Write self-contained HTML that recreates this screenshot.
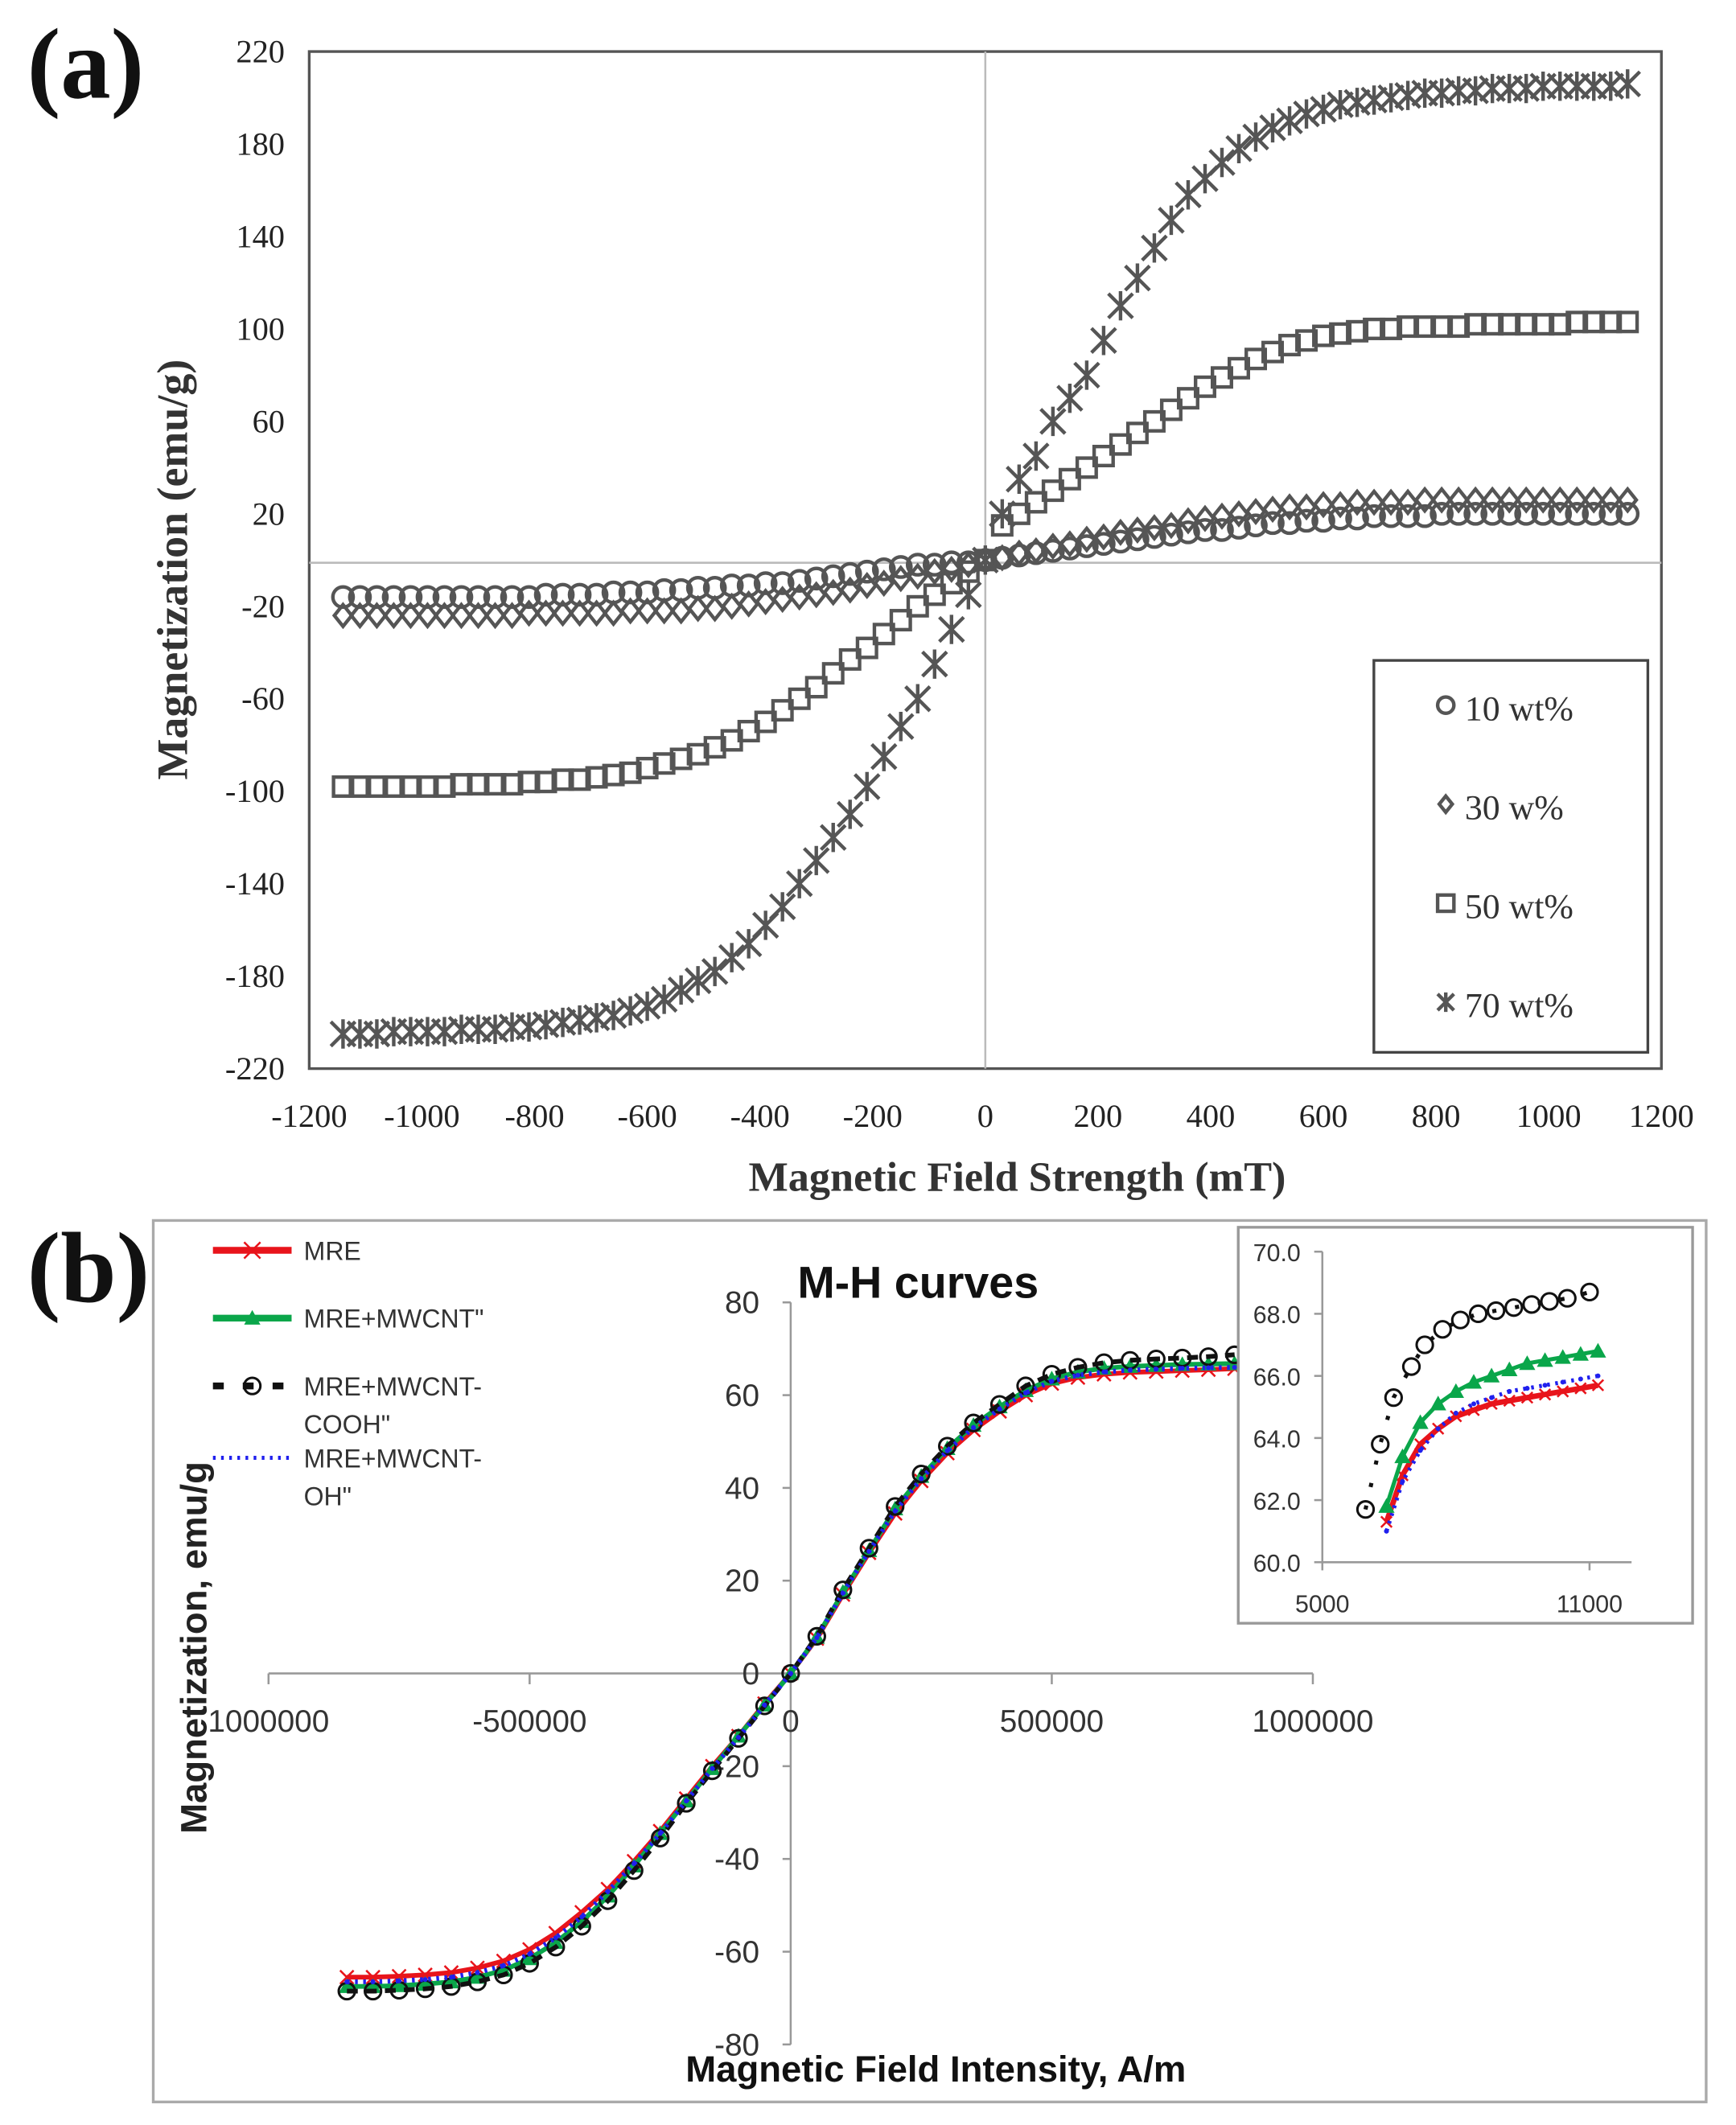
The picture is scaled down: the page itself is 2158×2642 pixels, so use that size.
<!DOCTYPE html>
<html><head><meta charset="utf-8">
<style>
html,body{margin:0;padding:0;background:#fff;}
svg{display:block;}
</style></head>
<body>
<svg id="fig" width="2158" height="2642" viewBox="0 0 1280 1567" preserveAspectRatio="none" xmlns="http://www.w3.org/2000/svg">
<rect width="1280" height="1567" fill="#fff"/>
<g id="pa"></g>
<g id="pb"></g>
</svg>
<script>
// ---------- Panel (a) data ----------
const aField = [-1140,-1110,-1080,-1050,-1020,-990,-960,-930,-900,-870,-840,-810,-780,-750,-720,-690,-660,-630,-600,-570,-540,-510,-480,-450,-420,-390,-360,-330,-300,-270,-240,-210,-180,-150,-120,-90,-60,-30,0,30,60,90,120,150,180,210,240,270,300,330,360,390,420,450,480,510,540,570,600,630,660,690,720,750,780,810,840,870,900,930,960,990,1020,1050,1080,1110,1140];
const a10 = [-16,-16,-16,-16,-16,-16,-16,-16,-16,-16,-16,-16,-15,-15,-15,-15,-14,-14,-14,-13,-13,-12,-12,-11,-11,-10,-10,-9,-8,-7,-6,-5,-4,-3,-2,-2,-1,-1,0,1,2,3,4,5,6,7,8,9,10,11,12,13,13,14,15,16,16,17,17,18,18,19,19,19,19,20,20,20,20,20,20,20,20,20,20,20,20];
const a30 = [-24,-24,-24,-24,-24,-24,-24,-24,-24,-24,-24,-23,-23,-23,-23,-23,-23,-22,-22,-22,-22,-21,-21,-20,-19,-18,-17,-16,-15,-14,-13,-11,-10,-8,-7,-5,-4,-2,0,1,3,4,6,7,9,10,12,13,14,15,17,18,19,20,21,22,23,23,24,24,25,25,25,25,26,26,26,26,26,26,26,26,26,26,26,26,26];
const a50 = [-98,-98,-98,-98,-98,-98,-98,-97,-97,-97,-97,-96,-96,-95,-95,-94,-93,-92,-90,-88,-86,-84,-81,-78,-74,-70,-65,-60,-55,-49,-43,-38,-32,-26,-20,-15,-10,-5,0,15,20,25,30,35,40,45,50,55,60,65,70,75,79,83,87,90,93,95,97,98,99,100,100,101,101,101,101,102,102,102,102,102,102,103,103,103,103];
const a70 = [-205,-205,-205,-204,-204,-204,-204,-203,-203,-203,-202,-202,-201,-200,-199,-198,-197,-195,-193,-190,-186,-182,-178,-172,-166,-158,-150,-140,-130,-120,-110,-98,-85,-72,-60,-45,-30,-15,0,20,35,45,60,70,80,95,110,122,135,147,158,165,172,178,183,187,190,193,195,197,198,199,200,201,202,202,203,203,204,204,204,205,205,205,205,205,206];
const aYTicks = [220,180,140,100,60,20,-20,-60,-100,-140,-180,-220];
const aXTicks = [-1200,-1000,-800,-600,-400,-200,0,200,400,600,800,1000,1200];
const aLegend = ["10 wt%","30 w%","50 wt%","70 wt%"];

// ---------- Panel (b) data ----------
const bField = [-850000,-800000,-750000,-700000,-650000,-600000,-550000,-500000,-450000,-400000,-350000,-300000,-250000,-200000,-150000,-100000,-50000,0,50000,100000,150000,200000,250000,300000,350000,400000,450000,500000,550000,600000,650000,700000,750000,800000,850000];
const bMRE   = [-65.5,-65.5,-65.3,-65,-64.5,-63.5,-62,-59.5,-56,-51.5,-46.5,-40.5,-34,-27,-20,-13.5,-6.5,0,7.5,17,26,34.5,41.5,47.5,52.5,56.5,60,62.5,63.8,64.5,64.9,65.1,65.3,65.5,65.7];
const bMWCNT = [-67.5,-67.5,-67.3,-67,-66.5,-65.5,-64,-61.5,-58,-53.5,-48,-41.5,-34.5,-27.5,-20.5,-13.5,-6.8,0,7.8,17.5,26.5,35.5,42.5,48.5,53.5,57.5,61,63.5,65,65.8,66.2,66.4,66.6,66.7,66.8];
const bCOOH  = [-68.5,-68.5,-68.3,-68,-67.5,-66.5,-65,-62.5,-59,-54.5,-49,-42.5,-35.5,-28,-21,-14,-7,0,8,18,27,36,43,49,54,58,62,64.5,66,67,67.5,67.8,68,68.3,68.7];
const bOH    = [-66.5,-66.5,-66.3,-66,-65.5,-64.5,-63,-60.5,-57,-52.5,-47,-41,-34.5,-27.5,-20.5,-13.8,-6.8,0,7.7,17.3,26.3,35,42,48,53,57,60.5,63,64.3,65,65.4,65.6,65.8,65.9,66];
const bYTicks = [80,60,40,20,0,-20,-40,-60,-80];
const bXTicks = [-1000000,-500000,0,500000,1000000];
const bXTickLabels = ["1000000","-500000","0","500000","1000000"];
const bLegend = ["MRE","MRE+MWCNT\"","MRE+MWCNT-|COOH\"","MRE+MWCNT-|OH\""];

// ---------- Inset data ----------
const inCOOHx = [5970,6300,6600,7000,7300,7700,8100,8500,8900,9300,9700,10100,10500,11000];
const inCOOHy = [61.7,63.8,65.3,66.3,67.0,67.5,67.8,68.0,68.1,68.2,68.3,68.4,68.5,68.7];
const inX = [6440,6800,7200,7600,8000,8400,8800,9200,9600,10000,10400,10800,11190];
const inMWCNT = [61.8,63.4,64.5,65.1,65.5,65.8,66.0,66.2,66.4,66.5,66.6,66.7,66.8];
const inMRE = [61.3,62.8,63.8,64.3,64.7,64.9,65.1,65.2,65.3,65.4,65.5,65.6,65.7];
const inOH = [61.0,62.6,63.6,64.3,64.8,65.1,65.3,65.5,65.6,65.7,65.8,65.9,66.0];
const inYTicks = [70,68,66,64,62,60];
const inXTicks = [5000,11000];

const NS="http://www.w3.org/2000/svg";
function mk(parent, tag, attrs, text){
  const e=document.createElementNS(NS,tag);
  for(const k in attrs) e.setAttribute(k,attrs[k]);
  if(text!==undefined) e.textContent=text;
  parent.appendChild(e); return e;
}

// ================= PANEL A =================
const pa=document.getElementById('pa');
const aL=228,aR=1225,aT=38,aB=788;
const ax=v=>aL+(v+1200)/2400*(aR-aL);
const ay=v=>aT+(220-v)/440*(aB-aT);
const SERIF='"Liberation Serif", serif';
let t=mk(pa,'text',{x:20,y:72,'font-family':SERIF,'font-weight':'bold','font-size':74,fill:'#111'},'(a)');


let r=mk(pa,'rect',{x:aL,y:aT,width:aR-aL,height:aB-aT,fill:'none',stroke:'#555','stroke-width':2});


let l=mk(pa,'line',{x1:ax(0),y1:aT,x2:ax(0),y2:aB,stroke:'#bbb','stroke-width':1.5});


l=mk(pa,'line',{x1:aL,y1:ay(0)+2,x2:aR,y2:ay(0)+2,stroke:'#bbb','stroke-width':1.5});


aYTicks.forEach(v=>{
  const e=mk(pa,'text',{x:210,y:ay(v)+8,'text-anchor':'end','font-family':SERIF,'font-size':24,fill:'#222'},String(v));
  
  
});
aXTicks.forEach(v=>{
  const e=mk(pa,'text',{x:ax(v),y:831,'text-anchor':'middle','font-family':SERIF,'font-size':24,fill:'#222'},String(v));
  
  
});
t=mk(pa,'text',{x:750,y:878,'text-anchor':'middle','font-family':SERIF,'font-weight':'bold','font-size':31,fill:'#333'},'Magnetic Field Strength (mT)');


t=mk(pa,'text',{x:0,y:0,'text-anchor':'middle','font-family':SERIF,'font-weight':'bold','font-size':32,fill:'#333',transform:'translate(138,420) rotate(-90)'},'Magnetization (emu/g)');



function markerA(g,type,x,y,s){
  const st={fill:'none',stroke:'#555','stroke-width':2.6};
  if(type==='circle') return mk(g,'circle',Object.assign({cx:x,cy:y,r:s},st));
  if(type==='diamond') return mk(g,'path',Object.assign({d:`M${x} ${y-s}L${x+s*0.8} ${y}L${x} ${y+s}L${x-s*0.8} ${y}Z`},st));
  if(type==='square') return mk(g,'rect',Object.assign({x:x-s,y:y-s,width:2*s,height:2*s},st));
  if(type==='star') return mk(g,'path',Object.assign({d:`M${x-s} ${y-s}L${x+s} ${y+s}M${x-s} ${y+s}L${x+s} ${y-s}M${x} ${y-s*1.2}L${x} ${y+s*1.2}`},st));
}
const aSeries=[[a10,'circle',7.5,'series-10wt'],[a30,'diamond',8,'series-30wt'],[a50,'square',7,'series-50wt'],[a70,'star',9,'series-70wt']];
aSeries.forEach(([vals,type,s,name])=>{
  const g=mk(pa,'g',{});
  
  
  vals.forEach((v,i)=>{
    const m=markerA(g,type,ax(aField[i]),ay(v),s);
    
    
  });
});
// legend a
const lg=mk(pa,'g',{});


mk(lg,'rect',{x:1013,y:487,width:202,height:289,fill:'#fff',stroke:'#444','stroke-width':2});
const lTypes=['circle','diamond','square','star'];
aLegend.forEach((s,i)=>{
  const y=523+i*73;
  const m=markerA(lg,lTypes[i],1066,y-3,6);
  
  
  const e=mk(lg,'text',{x:1080,y:y+8,'font-family':SERIF,'font-size':26,fill:'#333'},s);
  
  
});

// ================= PANEL B =================
const pb=document.getElementById('pb');
const SANS='"Liberation Sans", "DejaVu Sans", sans-serif';
t=mk(pb,'text',{x:20,y:960,'font-family':SERIF,'font-weight':'bold','font-size':74,fill:'#111'},'(b)');


r=mk(pb,'rect',{x:113,y:900,width:1145,height:650,fill:'none',stroke:'#aaa','stroke-width':2});


const bx=v=>583+v/1000000*385;
const by=v=>1234-v*3.42;
l=mk(pb,'line',{x1:bx(-1000000),y1:by(0),x2:bx(1000000),y2:by(0),stroke:'#999','stroke-width':1.5});


l=mk(pb,'line',{x1:bx(0),y1:by(80),x2:bx(0),y2:by(-80),stroke:'#999','stroke-width':1.5});


bXTicks.forEach((v,i)=>{
  const tk=mk(pb,'line',{x1:bx(v),y1:by(0),x2:bx(v),y2:by(0)+8,stroke:'#999','stroke-width':1.5});
  
  
  const e=mk(pb,'text',{x:bx(v),y:1277,'text-anchor':'middle','font-family':SANS,'font-size':23,fill:'#333'},bXTickLabels[i]);
  
  
});
bYTicks.forEach(v=>{
  const tk=mk(pb,'line',{x1:bx(0)-6,y1:by(v),x2:bx(0),y2:by(v),stroke:'#999','stroke-width':1.5});
  
  
  const e=mk(pb,'text',{x:560,y:by(v)+8,'text-anchor':'end','font-family':SANS,'font-size':23,fill:'#333'},String(v));
  
  
});
t=mk(pb,'text',{x:588,y:957,'font-family':SANS,'font-weight':'bold','font-size':33,fill:'#111'},'M-H curves');


t=mk(pb,'text',{x:690,y:1535,'text-anchor':'middle','font-family':SANS,'font-weight':'bold','font-size':27,fill:'#111'},'Magnetic Field Intensity, A/m');


t=mk(pb,'text',{x:0,y:0,'text-anchor':'middle','font-family':SANS,'font-weight':'bold','font-size':27,fill:'#222',transform:'translate(152,1215) rotate(-90)'},'Magnetization, emu/g');



function markerB(g,type,x,y,s,col){
  if(type==='x') return mk(g,'path',{d:`M${x-s} ${y-s}L${x+s} ${y+s}M${x-s} ${y+s}L${x+s} ${y-s}`,stroke:col,'stroke-width':1.5,fill:'none'});
  if(type==='tri') return mk(g,'path',{d:`M${x} ${y-s}L${x+s} ${y+s*0.8}L${x-s} ${y+s*0.8}Z`,fill:col});
  if(type==='circle') return mk(g,'circle',{cx:x,cy:y,r:s,fill:'none',stroke:col,'stroke-width':1.8});
  if(type==='dot') return mk(g,'circle',{cx:x,cy:y,r:1.8,fill:col});
}
const bSeries=[
  [bMRE,'#e8141b','x',5,{},'series-mre'],
  [bMWCNT,'#0aa64a','tri',6,{},'series-mre-mwcnt'],
  [bCOOH,'#111','circle',6,{'stroke-dasharray':'8 6'},'series-mre-mwcnt-cooh'],
  [bOH,'#2020ee','dot',3,{'stroke-dasharray':'2 4'},'series-mre-mwcnt-oh']
];
bSeries.forEach(([vals,col,type,s,extra,name])=>{
  const g=mk(pb,'g',{});
  
  
  const d=vals.map((v,i)=>(i?'L':'M')+bx(bField[i]).toFixed(1)+' '+by(v).toFixed(1)).join('');
  const p=mk(g,'path',Object.assign({d:d,fill:'none',stroke:col,'stroke-width':3.5},extra));
  
  
  vals.forEach((v,i)=>{
    const m=markerB(g,type,bx(bField[i]),by(v),s,col);
    
    
  });
});
// legend b
const lb=mk(pb,'g',{});


const lbCols=['#e8141b','#0aa64a','#111','#2020ee'];
const lbTypes=['x','tri','circle','dot'];
const lbY=[922,972,1022,1075];
bLegend.forEach((s,i)=>{
  const y=lbY[i];
  const ln=mk(lb,'line',{x1:157,y1:y,x2:215,y2:y,stroke:lbCols[i],'stroke-width':i===3?3:5,'stroke-dasharray':i===2?'8 14':(i===3?'2 4':'none')});
  
  
  if(i<3){const m=markerB(lb,lbTypes[i],186,y,6,lbCols[i]);
  
  }
  const parts=s.split('|');
  parts.forEach((p,j)=>{
    const e=mk(lb,'text',{x:224,y:y+7+j*28,'font-family':SANS,'font-size':19,fill:'#333'},p);
    
    
  });
});

// ================= INSET =================
const ins=mk(pb,'g',{});


mk(ins,'rect',{x:913,y:905,width:335,height:292,fill:'#fff',stroke:'#999','stroke-width':2});
const ix=v=>975+(v-5000)/6000*197;
const iy=v=>1152-(v-60)*22.9;
mk(ins,'line',{x1:ix(5000),y1:iy(70),x2:ix(5000),y2:iy(60),stroke:'#999','stroke-width':1.5});
mk(ins,'line',{x1:ix(5000),y1:iy(60),x2:1203,y2:iy(60),stroke:'#999','stroke-width':1.5});
inYTicks.forEach(v=>{
  mk(ins,'line',{x1:ix(5000)-6,y1:iy(v),x2:ix(5000),y2:iy(v),stroke:'#999','stroke-width':1.5});
  const e=mk(ins,'text',{x:959,y:iy(v)+7,'text-anchor':'end','font-family':SANS,'font-size':18,fill:'#333'},v.toFixed(1));
  
  
});
inXTicks.forEach(v=>{
  mk(ins,'line',{x1:ix(v),y1:iy(60),x2:ix(v),y2:iy(60)+6,stroke:'#999','stroke-width':1.5});
  const e=mk(ins,'text',{x:ix(v),y:1189,'text-anchor':'middle','font-family':SANS,'font-size':18,fill:'#333'},String(v));
  
  
});
const inSeries=[
  [inX,inMRE,'#e8141b','x',4,{},'inset-series-mre'],
  [inX,inOH,'#2020ee','dot',2,{'stroke-dasharray':'2 4'},'inset-series-mre-mwcnt-oh'],
  [inX,inMWCNT,'#0aa64a','tri',6,{},'inset-series-mre-mwcnt'],
  [inCOOHx,inCOOHy,'#111','circle',6,{'stroke-dasharray':'3 14'},'inset-series-mre-mwcnt-cooh']
];
inSeries.forEach(([xs,vals,col,type,s,extra,name])=>{
  const g=mk(ins,'g',{});
  
  
  const d=vals.map((v,i)=>(i?'L':'M')+ix(xs[i]).toFixed(1)+' '+iy(v).toFixed(1)).join('');
  const p=mk(g,'path',Object.assign({d:d,fill:'none',stroke:col,'stroke-width':type==='x'?4:3},extra));
  
  
  vals.forEach((v,i)=>{
    const m=markerB(g,type,ix(xs[i]),iy(v),s,col);
    
    
  });
});
</script>
</body></html>
